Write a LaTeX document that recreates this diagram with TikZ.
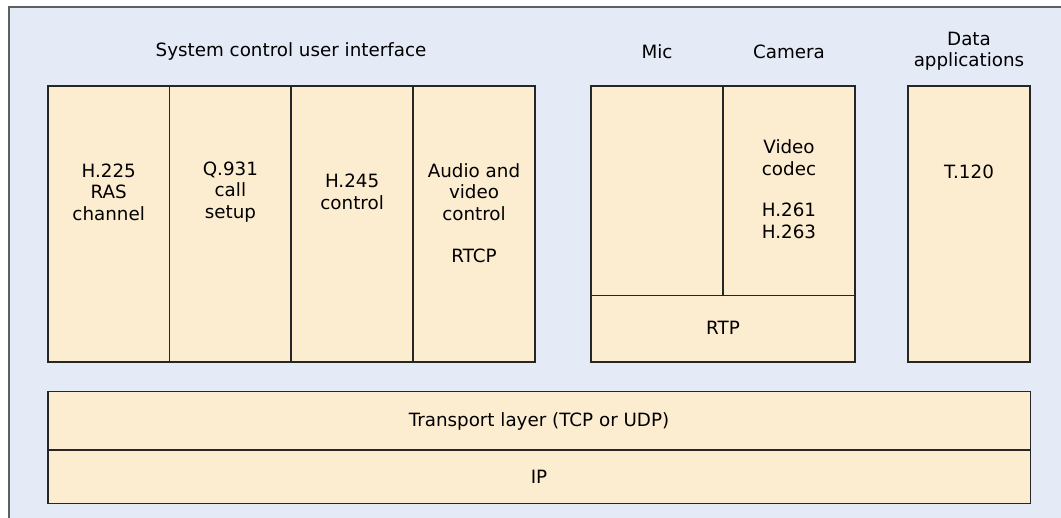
\documentclass[tikz,border=0pt]{standalone}
\usepackage{fontspec}
\setmainfont{DejaVu Sans}

\definecolor{fondo}{RGB}{228,234,246}
\definecolor{crema}{RGB}{253,237,208}
\definecolor{marco}{RGB}{95,95,95}

\begin{document}
\begin{tikzpicture}[x=1pt,y=-1pt,
    capa/.style={draw=black!85, fill=crema, line width=1.7pt, anchor=north west,
      inner sep=0pt, outer sep=0pt},
    texto/.style={align=center, inner sep=0pt,
      font=\fontsize{18.3}{21.5}\selectfont}]
        % Paso 1: Fondo y marco
        \useasboundingbox (0,0) rectangle (1061,518);
        \fill[fondo] (9,7) rectangle (1061,518);
        \draw[marco, line width=2pt] (9,518) -- (9,7) -- (1061,7);

        % Paso 2: Columnas del control del sistema
        \node[capa, minimum width=121.5, minimum height=276] (ras) at (48,86) {};
        \node[capa, minimum width=121.8, minimum height=276] (q931) at (169.5,86) {};
        \node[capa, minimum width=121.7, minimum height=276] (h245) at (291.3,86) {};
        \node[capa, minimum width=122, minimum height=276] (rtcp) at (413,86) {};

        % Paso 3: Audio, video y datos
        \node[capa, minimum width=132, minimum height=209.5] (mic) at (590.7,86) {};
        \node[capa, minimum width=132.6, minimum height=209.5] (camara) at (722.7,86) {};
        \node[capa, minimum width=264.6, minimum height=66.5] (rtp) at (590.7,295.5) {};
        \node[capa, minimum width=122, minimum height=276] (datos) at (908,86) {};

        % Paso 4: Capas de transporte e IP
        \node[capa, minimum width=982.5, minimum height=58.5] (transporte) at (48,391.5) {};
        \node[capa, minimum width=982.5, minimum height=53.5] (ip) at (48,450) {};

        % Paso 5: Textos
        \node[texto] (t_sistema) at (291,51) {System control user interface};
        \node[texto] (t_mic) at (657,52) {Mic};
        \node[texto] (t_camara) at (789,52) {Camera};
        \node[texto] (t_datos) at (969,51) {Data\\applications};
        \node[texto] (t_ras) at (108.7,192) {H.225\\RAS\\channel};
        \node[texto] (t_q931) at (230.4,192) {Q.931\\call\\setup};
        \node[texto] (t_h245) at (352.1,192) {H.245\\control};
        \node[texto] (t_av) at (474,192) {Audio and\\video\\control};
        \node[texto] (t_rtcp) at (474,256) {RTCP};
        \node[texto] (t_codec) at (789,157.5) {Video\\codec};
        \node[texto] (t_h26x) at (789,221) {H.261\\H.263};
        \node[texto] (t_t120) at (969,172) {T.120};
        \node[texto] (t_rtp) at (723,328) {RTP};
        \node[texto] (t_transporte) at (539,421) {Transport layer (TCP or UDP)};
        \node[texto] (t_ip) at (539,477) {IP};
    \end{tikzpicture}
\end{document}
